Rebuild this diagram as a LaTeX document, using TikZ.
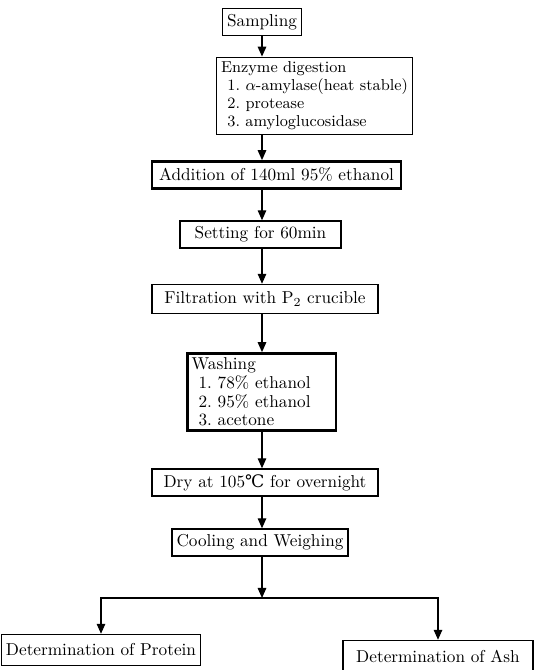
\documentclass[tikz,border=0pt]{standalone}
\usepackage{fontspec}
\newfontfamily\degfont{DejaVu Serif}
\usepackage{tikz}
\usetikzlibrary{arrows.meta, positioning}

\tikzset{
  stepbox/.style={draw, line width=0.8pt, inner sep=2.5pt, minimum height=0.54cm, font=\fontsize{9.8}{10.6}\selectfont},
  listbox/.style={stepbox, align=left, anchor=west},
  heavybox/.style={line width=1.5pt},
  flow/.style={-{Triangle[length=2mm, width=1.7mm]}, line width=0.8pt}
}

\begin{document}
\begin{tikzpicture}
\useasboundingbox (0,0) rectangle (10.82,13.4);
\node[stepbox, minimum width=1.4cm] (samp) at (5.24,12.96) {Sampling};
\node[listbox, font=\fontsize{9}{10.3}\selectfont] (enz) at (4.32,11.48) {Enzyme digestion\\\hspace{0.4em}1.\ $\alpha$-amylase(heat stable)\\\hspace{0.4em}2.\ protease\\\hspace{0.4em}3.\ amyloglucosidase};
\node[stepbox, heavybox, minimum width=4.98cm] (add) at (5.53,9.9) {Addition of 140ml 95\% ethanol};
\node[stepbox, minimum width=3.22cm] (sett) at (5.21,8.71) {Setting for 60min};
\node[stepbox, minimum width=4.52cm, minimum height=0.58cm] (filt) at (5.30,7.42) {Filtration with P$_2$ crucible};
\node[listbox, heavybox, text width=2.8cm] (wash) at (3.72,5.56) {Washing\\\hspace{0.4em}1.\ 78\% ethanol\\\hspace{0.4em}2.\ 95\% ethanol\\\hspace{0.4em}3.\ acetone};
\node[stepbox, minimum width=4.52cm] (dry) at (5.30,3.75) {Dry at 105{\degfont ℃} for overnight};
\node[stepbox, minimum width=3.2cm] (cool) at (5.20,2.55) {Cooling and Weighing};
\coordinate (split) at (5.24,1.44);
\node[stepbox, minimum width=3.7cm, minimum height=0.62cm] (prot) at (2.02,0.40) {Determination of Protein};
\node[stepbox, minimum width=3.8cm, minimum height=0.62cm] (ash) at (8.76,0.28) {Determination of Ash};
\draw[flow] (samp) -- (samp |- enz.north);
\draw[flow] (enz.south -| samp) -- (samp |- add.north);
\draw[flow] (add.south -| samp) -- (samp |- sett.north);
\draw[flow] (sett.south -| samp) -- (samp |- filt.north);
\draw[flow] (filt.south -| samp) -- (samp |- wash.north);
\draw[flow] (wash.south -| samp) -- (samp |- dry.north);
\draw[flow] (dry.south -| samp) -- (samp |- cool.north);
\draw[flow] (cool.south -| samp) -- (split);
\draw[flow] (split) -| (prot.north);
\draw[flow] (split) -| (ash.north);
\end{tikzpicture}
\end{document}
